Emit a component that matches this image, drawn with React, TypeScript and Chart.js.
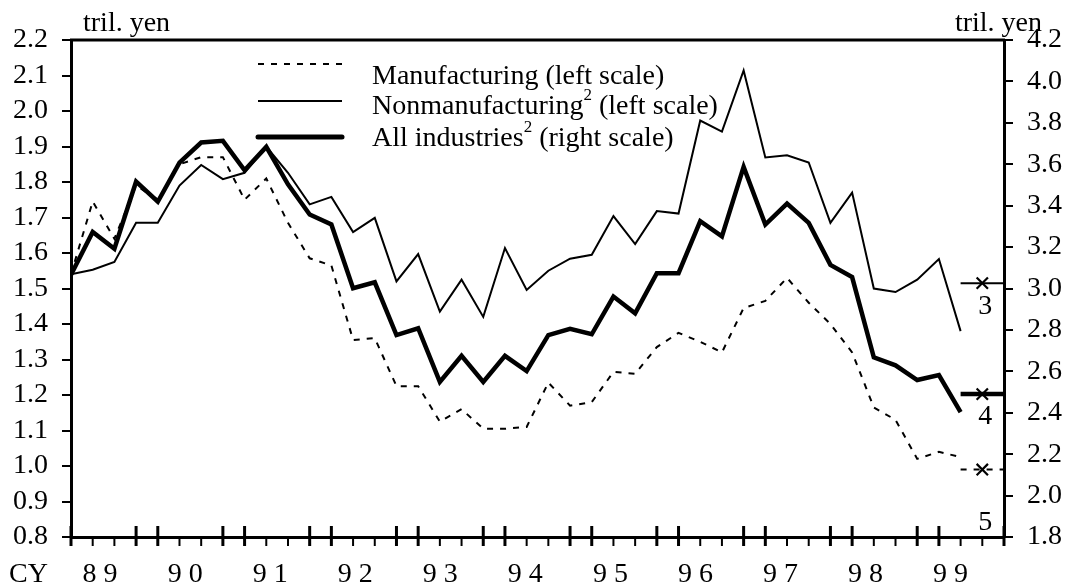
import React, { useEffect, useRef } from "react";
import { Chart, registerables } from "chart.js";
Chart.register(...registerables);

const years = ["89", "90", "91", "92", "93", "94", "95", "96", "97", "98", "99"];
const quarterNames = ["Q1", "Q2", "Q3", "Q4"];
const yearTickLabels = ["8 9", "9 0", "9 1", "9 2", "9 3", "9 4", "9 5", "9 6", "9 7", "9 8", "9 9"];

const manufacturing = [
  1.54, 1.745, 1.64, 1.79, 1.75, 1.85, 1.87, 1.87, 1.75, 1.81, 1.685, 1.585, 1.565, 1.355,
  1.36, 1.225, 1.225, 1.125, 1.16, 1.105, 1.105, 1.11, 1.235, 1.17, 1.18, 1.265, 1.26, 1.335,
  1.375, 1.35, 1.32, 1.445, 1.465, 1.53, 1.46, 1.4, 1.32, 1.165, 1.13, 1.02, 1.04, 1.025,
];
const nonmanufacturing = [
  1.54, 1.553, 1.575, 1.685, 1.685, 1.79, 1.848, 1.808, 1.826, 1.9, 1.826, 1.737, 1.758, 1.659,
  1.699, 1.52, 1.597, 1.435, 1.525, 1.42, 1.614, 1.496, 1.55, 1.584, 1.595, 1.704, 1.625, 1.718,
  1.711, 1.973, 1.942, 2.114, 1.869, 1.875, 1.855, 1.685, 1.77, 1.5, 1.49, 1.525, 1.583, 1.38,
];
const allIndustries = [
  3.067, 3.273, 3.192, 3.516, 3.419, 3.608, 3.705, 3.713, 3.571, 3.684, 3.503, 3.357, 3.309, 3.001,
  3.03, 2.775, 2.808, 2.549, 2.675, 2.549, 2.675, 2.601, 2.775, 2.805, 2.779, 2.961, 2.88, 3.074,
  3.074, 3.325, 3.252, 3.587, 3.309, 3.41, 3.317, 3.114, 3.055, 2.668, 2.629, 2.558, 2.582, 2.403,
];

// forecasts (footnotes 3, 4, 5)
const forecastNonmanufacturing = 1.515;
const forecastAllIndustries = 2.49;
const forecastManufacturing = 0.99;
const forecastNotes = ["3", "4", "5"];

const leftTicks = [0.8, 0.9, 1.0, 1.1, 1.2, 1.3, 1.4, 1.5, 1.6, 1.7, 1.8, 1.9, 2.0, 2.1, 2.2];
const rightTicks = [1.8, 2.0, 2.2, 2.4, 2.6, 2.8, 3.0, 3.2, 3.4, 3.6, 3.8, 4.0, 4.2];

const quarterLabels = years.flatMap((y) => quarterNames.map((q) => y + q));
const forecastIndex = quarterLabels.indexOf("99Q3");

const FONT = "Liberation Serif, Times New Roman, serif";
const FS = 28;

const toPts = (arr: number[]) => arr.map((v, i) => ({ x: i, y: v }));
const forecastSeg = (v: number) => [
  { x: forecastIndex - 1, y: v },
  { x: forecastIndex + 1, y: v },
];

export default function App() {
  const ref = useRef<HTMLCanvasElement | null>(null);

  useEffect(() => {
    if (!ref.current) return;

    const decor = {
      id: "decor",
      afterDraw(chart: any) {
        const ctx = chart.ctx;
        const ca = chart.chartArea;
        const xs = chart.scales.x;
        const yl = chart.scales.yLeft;
        const yr = chart.scales.yRight;
        ctx.save();
        ctx.strokeStyle = "#000";
        ctx.fillStyle = "#000";
        // top border
        ctx.lineWidth = 3;
        ctx.beginPath();
        ctx.moveTo(ca.left - 1, ca.top);
        ctx.lineTo(ca.right + 1, ca.top);
        ctx.stroke();
        // x tick marks
        for (let i = 0; i < quarterLabels.length; i++) {
          const x = xs.getPixelForValue(i);
          const big = i % 4 === 3 || i % 4 === 0;
          ctx.lineWidth = big ? 3 : 2;
          ctx.beginPath();
          ctx.moveTo(x, ca.bottom + 9);
          ctx.lineTo(x, big ? ca.bottom - 11 : ca.bottom);
          ctx.stroke();
        }
        // year labels
        ctx.font = `${FS}px ${FONT}`;
        ctx.textAlign = "center";
        ctx.textBaseline = "middle";
        yearTickLabels.forEach((lab, k) => {
          const x = xs.getPixelForValue(1.34 + k * 3.92);
          ctx.fillText(lab, x, 575);
        });
        ctx.textAlign = "left";
        ctx.fillText("CY", 9, 575);
        // units
        ctx.fillText("tril. yen", 83, 24);
        ctx.textAlign = "right";
        ctx.fillText("tril. yen", 1042, 24);
        // forecast notes
        ctx.textAlign = "center";
        const fx = xs.getPixelForValue(forecastIndex) + 3;
        ctx.fillText(forecastNotes[0], fx, yl.getPixelForValue(forecastNonmanufacturing) + 23);
        ctx.fillText(forecastNotes[1], fx, yr.getPixelForValue(forecastAllIndustries) + 23);
        ctx.fillText(forecastNotes[2], fx, yl.getPixelForValue(forecastManufacturing) + 53);
        // legend
        const lx0 = 258, lx1 = 342, tx = 372;
        ctx.lineWidth = 2;
        ctx.setLineDash([6, 7]);
        ctx.beginPath();
        ctx.moveTo(lx0, 64);
        ctx.lineTo(lx1, 64);
        ctx.stroke();
        ctx.setLineDash([]);
        ctx.beginPath();
        ctx.moveTo(lx0, 101);
        ctx.lineTo(lx1, 101);
        ctx.stroke();
        ctx.lineWidth = 5;
        ctx.lineCap = "round";
        ctx.beginPath();
        ctx.moveTo(lx0, 137);
        ctx.lineTo(lx1, 137);
        ctx.stroke();
        ctx.lineCap = "butt";
        const row = (parts: [string, boolean][], y: number) => {
          let x = tx;
          ctx.textAlign = "left";
          for (const [t, sup] of parts) {
            ctx.font = sup ? `17px ${FONT}` : `${FS}px ${FONT}`;
            ctx.fillText(t, x, sup ? y - 11 : y);
            x += ctx.measureText(t).width;
          }
        };
        row([["Manufacturing (left scale)", false]], 77);
        row([["Nonmanufacturing", false], ["2", true], [" (left scale)", false]], 107);
        row([["All industries", false], ["2", true], [" (right scale)", false]], 139);
        ctx.restore();
      },
    };

    const yTickOpts = {
      font: { family: FONT, size: FS },
      color: "#000",
      padding: 14,
      autoSkip: false,
      callback: (v: any) => Number(v).toFixed(1),
    };
    const yGrid = {
      display: true,
      drawOnChartArea: false,
      drawTicks: true,
      tickLength: 9,
      lineWidth: 2,
      color: "#000",
    };

    const lineBase = { borderColor: "#000", pointRadius: 0, tension: 0 };
    const crossBase = {
      showLine: false,
      pointStyle: "crossRot",
      pointRadius: 8,
      pointBorderWidth: 2.2,
      pointBorderColor: "#000",
      order: 3,
    };

    const chart = new Chart(ref.current, {
      type: "line",
      data: {
        datasets: [
          { ...lineBase, label: "All industries", data: toPts(allIndustries), yAxisID: "yRight", borderWidth: 4.5, order: 0 },
          { ...lineBase, label: "Nonmanufacturing", data: toPts(nonmanufacturing), yAxisID: "yLeft", borderWidth: 2, order: 1 },
          { ...lineBase, label: "Manufacturing", data: toPts(manufacturing), yAxisID: "yLeft", borderWidth: 2, borderDash: [6, 7], order: 2 },
          { ...lineBase, label: "f3", data: forecastSeg(forecastNonmanufacturing), yAxisID: "yLeft", borderWidth: 2, order: 3 },
          { ...lineBase, label: "f4", data: forecastSeg(forecastAllIndustries), yAxisID: "yRight", borderWidth: 4.5, order: 3 },
          { ...lineBase, label: "f5", data: forecastSeg(forecastManufacturing), yAxisID: "yLeft", borderWidth: 2, borderDash: [6, 7], order: 3 },
          { ...crossBase, label: "x3", data: [{ x: forecastIndex, y: forecastNonmanufacturing }], yAxisID: "yLeft" },
          { ...crossBase, label: "x4", data: [{ x: forecastIndex, y: forecastAllIndustries }], yAxisID: "yRight" },
          { ...crossBase, label: "x5", data: [{ x: forecastIndex, y: forecastManufacturing }], yAxisID: "yLeft" },
        ],
      },
      options: {
        responsive: false,
        animation: false,
        layout: { padding: { top: 40, left: 0, right: 0, bottom: 0 } },
        plugins: { legend: { display: false }, tooltip: { enabled: false } },
        scales: {
          x: {
            type: "linear",
            min: 0,
            max: quarterLabels.length - 1,
            ticks: { display: false },
            grid: { display: false },
            border: { display: true, width: 3, color: "#000" },
            afterFit: (s: any) => {
              s.height = 51;
            },
          },
          yLeft: {
            type: "linear",
            position: "left",
            min: leftTicks[0],
            max: leftTicks[leftTicks.length - 1],
            afterBuildTicks: (s: any) => {
              s.ticks = leftTicks.map((v) => ({ value: v }));
            },
            ticks: yTickOpts,
            grid: yGrid,
            border: { display: true, width: 3, color: "#000" },
            afterFit: (s: any) => {
              s.width = 71;
            },
          },
          yRight: {
            type: "linear",
            position: "right",
            min: rightTicks[0],
            max: rightTicks[rightTicks.length - 1],
            afterBuildTicks: (s: any) => {
              s.ticks = rightTicks.map((v) => ({ value: v }));
            },
            ticks: yTickOpts,
            grid: yGrid,
            border: { display: true, width: 3, color: "#000" },
            afterFit: (s: any) => {
              s.width = 62;
            },
          },
        },
      },
      plugins: [decor],
    } as any);

    return () => chart.destroy();
  }, []);

  return (
    <div style={{ position: "absolute", left: 0, top: 0, width: 1066, height: 588, background: "#fff" }}>
      <canvas ref={ref} width={1066} height={588} style={{ display: "block" }} />
    </div>
  );
}
